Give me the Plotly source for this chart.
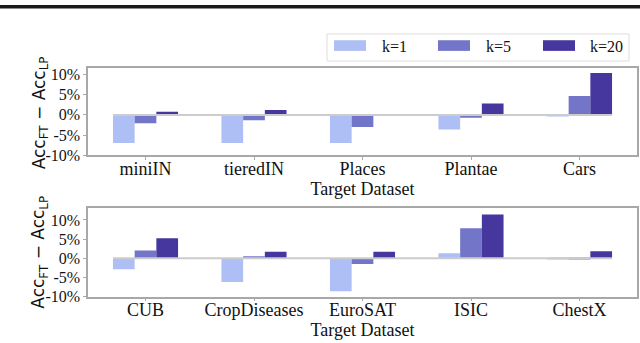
import plotly.graph_objects as go

# ---------------- data ----------------
series_names = ["k=1", "k=5", "k=20"]
series_colors = ["#aebff5", "#7375c8", "#46379e"]

top_categories = ["miniIN", "tieredIN", "Places", "Plantae", "Cars"]
top_k1 = [-7.0, -7.0, -7.0, -3.6, -0.4]
top_k5 = [-2.1, -1.3, -3.0, -0.7, 4.7]
top_k20 = [0.8, 1.2, 0.1, 2.8, 10.4]

bottom_categories = ["CUB", "CropDiseases", "EuroSAT", "ISIC", "ChestX"]
bottom_k1 = [-2.9, -6.2, -8.6, 1.3, -0.35]
bottom_k5 = [2.0, 0.5, -1.5, 7.8, -0.3]
bottom_k20 = [5.2, 1.7, 1.7, 11.4, 1.8]

y_tick_vals = [-10, -5, 0, 5, 10]
y_tick_text = ["-10%", "-5%", "0%", "5%", "10%"]
x_title = "Target Dataset"
y_title = "Acc<sub>FT</sub> − Acc<sub>LP</sub>"

W, H = 640, 343
serif = "Liberation Serif"
axis_gray = "#a8a8a8"

fig = go.Figure()

panels = [
    (top_categories, [top_k1, top_k5, top_k20], "x", "y"),
    (bottom_categories, [bottom_k1, bottom_k5, bottom_k20], "x2", "y2"),
]
for cats, vals, xa, ya in panels:
    for name, color, v in zip(series_names, series_colors, vals):
        fig.add_trace(go.Bar(
            x=cats, y=v, name=name, marker_color=color,
            marker_line_width=0, xaxis=xa, yaxis=ya, showlegend=False,
            hoverinfo="skip",
        ))

px = lambda p: p / W
py = lambda p: (H - p) / H

x_domain = [px(88), px(637)]
common_x = dict(
    domain=x_domain, range=[-0.53, 4.53], showline=True, linecolor=axis_gray,
    linewidth=1.5, mirror=True, ticks="outside", ticklen=3, tickcolor=axis_gray,
    tickfont=dict(family=serif, size=18, color="#111"), showgrid=False,
    ticklabelstandoff=-7,
    title=dict(text=x_title, font=dict(family=serif, size=18, color="#111"), standoff=0),
)
common_y = dict(
    showline=True, linecolor=axis_gray, linewidth=1.5, mirror=True,
    ticks="outside", ticklen=3, tickcolor=axis_gray,
    tickvals=y_tick_vals, ticktext=y_tick_text,
    tickfont=dict(family=serif, size=16, color="#111"), showgrid=False,
    zeroline=False,
)
fig.update_layout(
    width=W, height=H, margin=dict(l=0, r=0, t=0, b=0),
    paper_bgcolor="white", plot_bgcolor="white",
    barmode="group", bargap=0.4, bargroupgap=0,
    xaxis=dict(common_x, anchor="y"),
    yaxis=dict(common_y, domain=[py(158.3), py(68.3)], range=[-10, 11.6], anchor="x"),
    xaxis2=dict(common_x, anchor="y2"),
    yaxis2=dict(common_y, domain=[py(304.3), py(213.3)], range=[-10, 13.0], anchor="x2"),
    showlegend=False,
)

# zero reference lines spanning the bars
for xr, yr in [("x", "y"), ("x2", "y2")]:
    fig.add_shape(type="line", xref=xr, yref=yr, x0=-0.3, x1=4.3, y0=0, y1=0,
                  line=dict(color="#cccccc", width=2))

# y axis titles
for ymid in [115, 259]:
    fig.add_annotation(text=y_title, xref="paper", yref="paper", x=px(40), y=py(ymid),
                       showarrow=False, textangle=-90, xanchor="center", yanchor="middle",
                       font=dict(family="DejaVu Sans", size=17, color="#111"))

# top rule of page
fig.add_shape(type="line", xref="paper", yref="paper", x0=0, x1=1, y0=py(5), y1=py(5),
              line=dict(color="#1a1a1a", width=3.5))

# legend box
fig.add_shape(type="rect", xref="paper", yref="paper", x0=px(327), x1=px(629),
              y0=py(61), y1=py(33), line=dict(color="#dddddd", width=1), fillcolor="white")
swatch_x = [334, 438, 543]
text_x = [380, 484, 588]
for name, color, sx, tx in zip(series_names, series_colors, swatch_x, text_x):
    fig.add_shape(type="rect", xref="paper", yref="paper", x0=px(sx), x1=px(sx + 32),
                  y0=py(50.5), y1=py(39.5), line=dict(width=0), fillcolor=color)
    fig.add_annotation(text=name, xref="paper", yref="paper", x=px(tx), y=py(46),
                       showarrow=False, xanchor="left", yanchor="middle",
                       font=dict(family=serif, size=16, color="#111"))

fig.write_html("out.html", config={"displayModeBar": False},
               post_script="document.body.style.margin='0';document.body.style.overflow='hidden';")
